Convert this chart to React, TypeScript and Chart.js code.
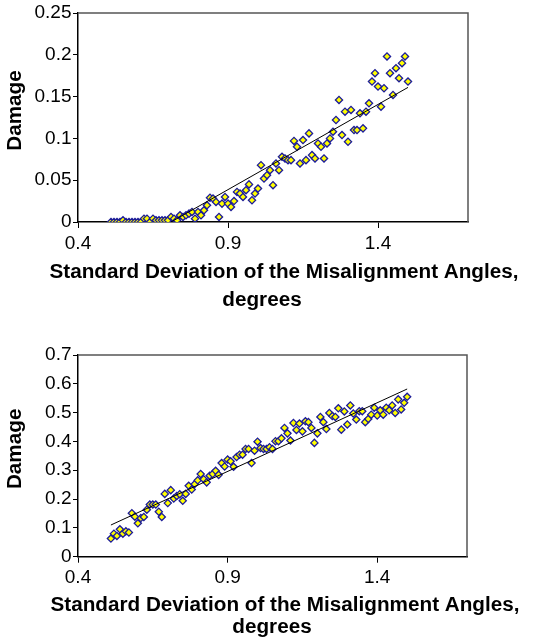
import React, { useEffect, useRef } from 'react';
import { Chart, registerables } from 'chart.js';

Chart.register(...registerables);

// ---------- data ----------
const xValues = [
  0.51, 0.52, 0.53, 0.54, 0.55, 0.56, 0.57, 0.58, 0.59, 0.6,
  0.61, 0.62, 0.63, 0.64, 0.65, 0.66, 0.67, 0.68, 0.69, 0.7,
  0.71, 0.72, 0.73, 0.74, 0.75, 0.76, 0.77, 0.78, 0.79, 0.8,
  0.81, 0.82, 0.83, 0.84, 0.85, 0.86, 0.87, 0.88, 0.89, 0.9,
  0.91, 0.92, 0.93, 0.94, 0.95, 0.96, 0.97, 0.98, 0.99, 1.0,
  1.01, 1.02, 1.03, 1.04, 1.05, 1.06, 1.07, 1.08, 1.09, 1.1,
  1.11, 1.12, 1.13, 1.14, 1.15, 1.16, 1.17, 1.18, 1.19, 1.2,
  1.21, 1.22, 1.23, 1.24, 1.25, 1.26, 1.27, 1.28, 1.29, 1.3,
  1.31, 1.32, 1.33, 1.34, 1.35, 1.36, 1.37, 1.38, 1.39, 1.4,
  1.41, 1.42, 1.43, 1.44, 1.45, 1.46, 1.47, 1.48, 1.49, 1.5,
];

const damageTop = [
  0, 0, 0, 0, 0.002, 0, 0, 0, 0, 0,
  0, 0.004, 0.004, 0, 0.004, 0.002, 0.002, 0.002, 0.002, 0.002,
  0.006, 0.004, 0.002, 0.008, 0.006, 0.008, 0.01, 0.012, 0.004, 0.012,
  0.008, 0.014, 0.02, 0.029, 0.028, 0.024, 0.006, 0.022, 0.03, 0.022,
  0.018, 0.025, 0.036, 0.034, 0.03, 0.038, 0.045, 0.026, 0.034, 0.04,
  0.068, 0.052, 0.056, 0.062, 0.044, 0.07, 0.062, 0.078, 0.076, 0.074,
  0.074, 0.097, 0.09, 0.07, 0.098, 0.074, 0.106, 0.08, 0.076, 0.094,
  0.09, 0.076, 0.094, 0.1, 0.108, 0.122, 0.146, 0.104, 0.132, 0.096,
  0.134, 0.11, 0.11, 0.13, 0.112, 0.132, 0.142, 0.168, 0.178, 0.162,
  0.138, 0.16, 0.198, 0.178, 0.152, 0.184, 0.172, 0.19, 0.198, 0.168,
];

const damageBottom = [
  0.063, 0.08, 0.072, 0.095, 0.08, 0.088, 0.084, 0.151, 0.139, 0.116,
  0.134, 0.138, 0.163, 0.181, 0.181, 0.181, 0.156, 0.138, 0.218, 0.186,
  0.231, 0.202, 0.211, 0.217, 0.194, 0.218, 0.246, 0.233, 0.252, 0.265,
  0.287, 0.269, 0.258, 0.281, 0.287, 0.298, 0.284, 0.325, 0.313, 0.337,
  0.331, 0.312, 0.346, 0.354, 0.354, 0.374, 0.374, 0.325, 0.368, 0.399,
  0.377, 0.374, 0.374, 0.38, 0.374, 0.401, 0.401, 0.411, 0.447, 0.428,
  0.403, 0.464, 0.44, 0.462, 0.435, 0.47, 0.467, 0.447, 0.395, 0.428,
  0.485, 0.467, 0.443, 0.499, 0.488, 0.485, 0.515, 0.441, 0.504, 0.459,
  0.525, 0.497, 0.476, 0.505, 0.505, 0.467, 0.478, 0.493, 0.517, 0.49,
  0.508, 0.493, 0.517, 0.508, 0.525, 0.499, 0.546, 0.511, 0.534, 0.555,
];

const trendTopX = [0.71, 1.5];
const trendTopY = [0, 0.161];
const trendBottomX = [0.51, 1.5];
const trendBottomY = [0.11, 0.582];

const xTicks = [0.4, 0.9, 1.4];
const yTicksTop = [0, 0.05, 0.1, 0.15, 0.2, 0.25];
const yTicksBottom = [0, 0.1, 0.2, 0.3, 0.4, 0.5, 0.6, 0.7];

const yTitle = 'Damage';
const xTitleLines = ['Standard Deviation of the Misalignment Angles,', 'degrees'];

// ---------- styling ----------
const FONT = '"Liberation Sans", Arial, Helvetica, sans-serif';
const W = 533;

const titlePlugin = {
  id: 'axisTitles',
  afterDraw(chart: any, _args: any, opts: any) {
    const { ctx, chartArea: a } = chart;
    ctx.save();
    // frame (top & right)
    ctx.strokeStyle = '#555555';
    ctx.lineWidth = 1.5;
    ctx.beginPath();
    ctx.moveTo(a.left, a.top);
    ctx.lineTo(a.right, a.top);
    ctx.lineTo(a.right, a.bottom);
    ctx.stroke();

    ctx.fillStyle = '#000';
    ctx.font = `bold ${opts.size}px ${FONT}`;
    ctx.textAlign = 'center';
    ctx.textBaseline = 'alphabetic';
    const cx = (a.left + a.right) / 2;
    opts.lines.forEach((t: string, i: number) => {
      ctx.fillText(t, cx + opts.lineDx[i], a.bottom + opts.lineDy[i]);
    });
    // y title
    ctx.translate(opts.yTitleX, (a.top + a.bottom) / 2 + opts.yTitleDy);
    ctx.rotate(-Math.PI / 2);
    ctx.textBaseline = 'middle';
    ctx.fillText(opts.yText, 0, 0);
    ctx.restore();
  },
};

function makeConfig(
  ys: number[],
  tx: number[],
  ty: number[],
  yTicks: number[],
  height: number,
  top: number,
  bottom: number,
  right: number,
  lineDx: number[],
  lineDy: number[],
) {
  return {
    type: 'scatter' as const,
    data: {
      datasets: [
        {
          label: 'trend',
          data: tx.map((x, i) => ({ x, y: ty[i] })),
          showLine: true,
          borderColor: '#000',
          borderWidth: 1,
          pointRadius: 0,
          order: 0,
        },
        {
          label: 'Damage',
          data: xValues.map((x, i) => ({ x, y: ys[i] })),
          pointStyle: 'rectRot',
          pointRadius: 3.6,
          backgroundColor: '#ffff00',
          borderColor: '#1c1c99',
          borderWidth: 1.3,
          order: 1,
        },
      ],
    },
    options: {
      responsive: false,
      animation: false,
      layout: { padding: { top, right, left: 0, bottom: 0 } },
      plugins: {
        legend: { display: false },
        tooltip: { enabled: false },
        axisTitles: {
          size: 20.7,
          lines: xTitleLines,
          lineDx,
          lineDy,
          yText: yTitle,
          yTitleX: 15.5,
          yTitleDy: -7,
        },
      },
      scales: {
        x: {
          type: 'linear',
          min: 0.4,
          max: 1.7,
          afterBuildTicks: (s: any) => {
            s.ticks = xTicks.map((v) => ({ value: v }));
          },
          afterFit: (s: any) => {
            s.height = height - bottom;
          },
          ticks: {
            callback: (v: any) => String(v),
            font: { family: FONT, size: 19 },
            color: '#000',
            padding: 4,
            maxRotation: 0,
            autoSkip: false,
          },
          grid: {
            drawOnChartArea: false,
            drawTicks: true,
            tickLength: 6,
            color: '#000',
            lineWidth: 1,
          },
          border: { display: true, color: '#000', width: 1.5 },
        },
        y: {
          type: 'linear',
          min: yTicks[0],
          max: yTicks[yTicks.length - 1],
          afterBuildTicks: (s: any) => {
            s.ticks = yTicks.map((v) => ({ value: v }));
          },
          afterFit: (s: any) => {
            s.width = 78;
          },
          ticks: {
            callback: (v: any) => String(v),
            font: { family: FONT, size: 19 },
            color: '#000',
            padding: 1.5,
            autoSkip: false,
          },
          grid: {
            drawOnChartArea: false,
            drawTicks: true,
            tickLength: 5,
            color: '#000',
            lineWidth: 1,
          },
          border: { display: true, color: '#000', width: 1.5 },
        },
      },
    },
    plugins: [titlePlugin],
  };
}

const H1 = 320;
const H2 = 322;

export default function App() {
  const ref1 = useRef<HTMLCanvasElement>(null);
  const ref2 = useRef<HTMLCanvasElement>(null);

  useEffect(() => {
    const c1 = new Chart(
      ref1.current as HTMLCanvasElement,
      makeConfig(damageTop, trendTopX, trendTopY, yTicksTop, H1, 13, 222, W - 468, [11, -11], [55.5, 83.5]) as any,
    );
    const c2 = new Chart(
      ref2.current as HTMLCanvasElement,
      makeConfig(damageBottom, trendBottomX, trendBottomY, yTicksBottom, H2, 35, 236.7, W - 467, [12.5, -0.5], [54, 76]) as any,
    );
    return () => {
      c1.destroy();
      c2.destroy();
    };
  }, []);

  return (
    <div style={{ position: 'fixed', left: 0, top: 0, width: W, height: H1 + H2, background: '#fff' }}>
      <canvas ref={ref1} width={W} height={H1} style={{ display: 'block', width: W, height: H1 }} />
      <canvas ref={ref2} width={W} height={H2} style={{ display: 'block', width: W, height: H2 }} />
    </div>
  );
}
